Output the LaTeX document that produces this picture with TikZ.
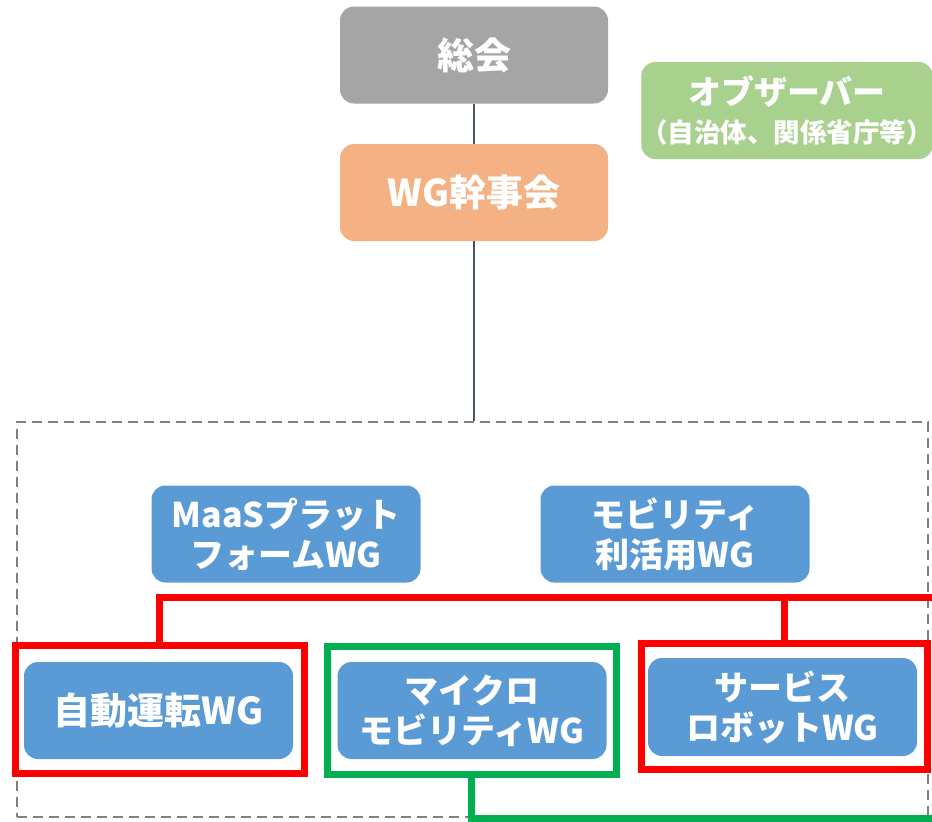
\documentclass[tikz,border=0pt]{standalone}
\usepackage{fontspec}
\newfontfamily\jp{Noto Sans CJK JP}
\begin{document}
\begin{tikzpicture}[x=1pt,y=-1pt,
  box/.style={rectangle,rounded corners=14pt,draw=none,text=white,align=center,
    font=\jp\bfseries\fontsize{34}{40}\selectfont,inner sep=0pt},
  topbox/.style={box,font=\jp\bfseries\fontsize{37}{40}\selectfont,minimum width=268pt,minimum height=97pt},
  bluebox/.style={box,fill=wgblue,minimum width=269pt,minimum height=97pt},
  frame/.style={rectangle,draw,line width=7pt,minimum width=289pt,minimum height=128pt,inner sep=0pt},
  conn/.style={draw=slate,line width=2pt},
  redline/.style={draw=red,line width=7pt},
  greenline/.style={draw=frgreen,line width=7pt}
]
\definecolor{wgblue}{HTML}{5B9BD5}
\definecolor{grayb}{HTML}{A5A5A5}
\definecolor{orangeb}{HTML}{F4B183}
\definecolor{greenb}{HTML}{A9D18E}
\definecolor{frgreen}{HTML}{00B050}
\definecolor{slate}{HTML}{44546A}
\definecolor{dashgray}{HTML}{808080}
\useasboundingbox (0,0) rectangle (932,822);

% dashed group
\node[rectangle,draw=dashgray,dash pattern=on 10pt off 6pt,line width=2.5pt,
  minimum width=911pt,minimum height=395pt,inner sep=0pt] (grp) at (472.5,619.5) {};

% top boxes
\node[topbox,fill=grayb] (sokai) at (474,55) {総会};
\node[topbox,fill=orangeb] (kanji) at (474,192.5) {WG幹事会};
\node[box,fill=greenb,minimum width=288pt,minimum height=97pt,
  font=\jp\bfseries\fontsize{33}{38}\selectfont] (obs) at (787,110.5)
  {オブザーバー\\{\fontsize{26.5}{34}\selectfont（自治体、関係省庁等）}};

% WG boxes
\node[bluebox] (maas) at (286,534) {MaaSプラット\\フォームWG};
\node[bluebox] (mob) at (675,534) {モビリティ\\利活用WG};

\node[frame,draw=red] (redL) at (159.5,709) {};
\node[frame,draw=frgreen] (grnM) at (471.5,710) {};
\node[frame,draw=red,minimum width=286pt,minimum height=126pt] (redR) at (784,706) {};

\node[bluebox,font=\jp\bfseries\fontsize{37}{40}\selectfont] (jido) at (158.5,710.5) {自動運転WG};
\node[bluebox] (micro) at (472,710.5) {マイクロ\\モビリティWG};
\node[bluebox,minimum height=98pt] (serv) at (782.5,707) {サービス\\ロボットWG};

% connectors
\coordinate (rEnd) at (940,597);
\coordinate (gEnd) at (940,818);
\draw[conn] (sokai.south) -- (kanji.north);
\draw[conn] (kanji.south) -- (kanji.south |- grp.north);
\draw[redline] (redL.north) |- (rEnd);
\draw[redline] (redR.north) -- (redR.north |- rEnd);
\draw[greenline] (grnM.south) |- (gEnd);
\end{tikzpicture}
\end{document}
